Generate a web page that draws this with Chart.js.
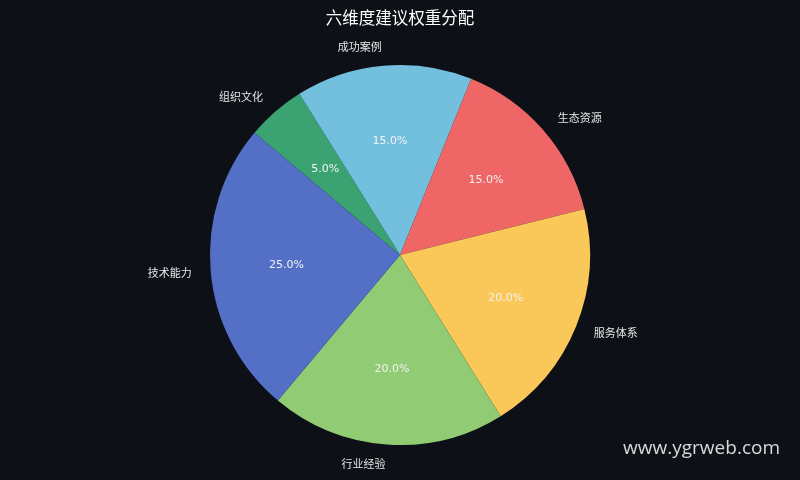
<!DOCTYPE html>
<html>
<head>
<meta charset="utf-8">
<script src="https://cdn.jsdelivr.net/npm/chart.js@4.4.1/dist/chart.umd.min.js"></script>
<style>
  html, body { margin: 0; padding: 0; background: #0d1117; }
  #wrap { width: 800px; height: 480px; position: relative; }
</style>
</head>
<body>
<div id="wrap"><canvas id="chart" width="800" height="480"></canvas></div>
<script>
// --- DATA (clockwise from the top-left edge) ---
const labels = ['组织文化', '成功案例', '生态资源', '服务体系', '行业经验', '技术能力'];
const weights = [5, 15, 15, 20, 20, 25];
const colors = ['#3ba272', '#73c0de', '#ee6666', '#fac858', '#91cc75', '#5470c6'];

const titleText = '六维度建议权重分配';
const watermark = 'www.ygrweb.com';

const CJK = '"Noto Sans CJK SC", "DejaVu Sans", sans-serif';
const total = weights.reduce((a, b) => a + b, 0);

// draws title, slice labels, percentages and watermark
const textPlugin = {
  id: 'pieText',
  afterDatasetsDraw(chart) {
    const ctx = chart.ctx;
    const arcs = chart.getDatasetMeta(0).data;
    ctx.save();
    ctx.textBaseline = 'middle';

    arcs.forEach((arc, i) => {
      const mid = (arc.startAngle + arc.endAngle) / 2;
      const r = arc.outerRadius;
      const cx = Math.cos(mid), cy = Math.sin(mid);

      // percentage inside
      ctx.fillStyle = '#f2f2f2';
      ctx.font = '11px "DejaVu Sans", sans-serif';
      ctx.textAlign = 'center';
      const pct = (weights[i] / total * 100).toFixed(1) + '%';
      ctx.fillText(pct, arc.x + cx * r * 0.6, arc.y + cy * r * 0.6);

      // label outside
      ctx.fillStyle = '#e6e6e6';
      ctx.font = '11px ' + CJK;
      ctx.textAlign = cx >= 0 ? 'left' : 'right';
      ctx.fillText(labels[i], arc.x + cx * r * 1.1, arc.y + cy * r * 1.1);
    });

    // title
    ctx.fillStyle = '#ffffff';
    ctx.font = '16.5px ' + CJK;
    ctx.textAlign = 'center';
    ctx.fillText(titleText, 400, 18);

    // watermark
    ctx.fillStyle = '#d9d9d9';
    ctx.font = '19px "Open Sans", sans-serif';
    ctx.textAlign = 'right';
    ctx.fillText(watermark, 780, 449);

    ctx.restore();
  }
};

const ctx = document.getElementById('chart').getContext('2d');
new Chart(ctx, {
  type: 'pie',
  data: {
    labels,
    datasets: [{
      data: weights,
      backgroundColor: colors,
      borderWidth: 0,
    }]
  },
  options: {
    responsive: false,
    animation: false,
    rotation: -50,
    layout: { padding: { top: 65, bottom: 35, left: 0, right: 0 } },
    plugins: {
      legend: { display: false },
      tooltip: { enabled: false },
      title: { display: false }
    }
  },
  plugins: [textPlugin]
});
</script>
</body>
</html>
